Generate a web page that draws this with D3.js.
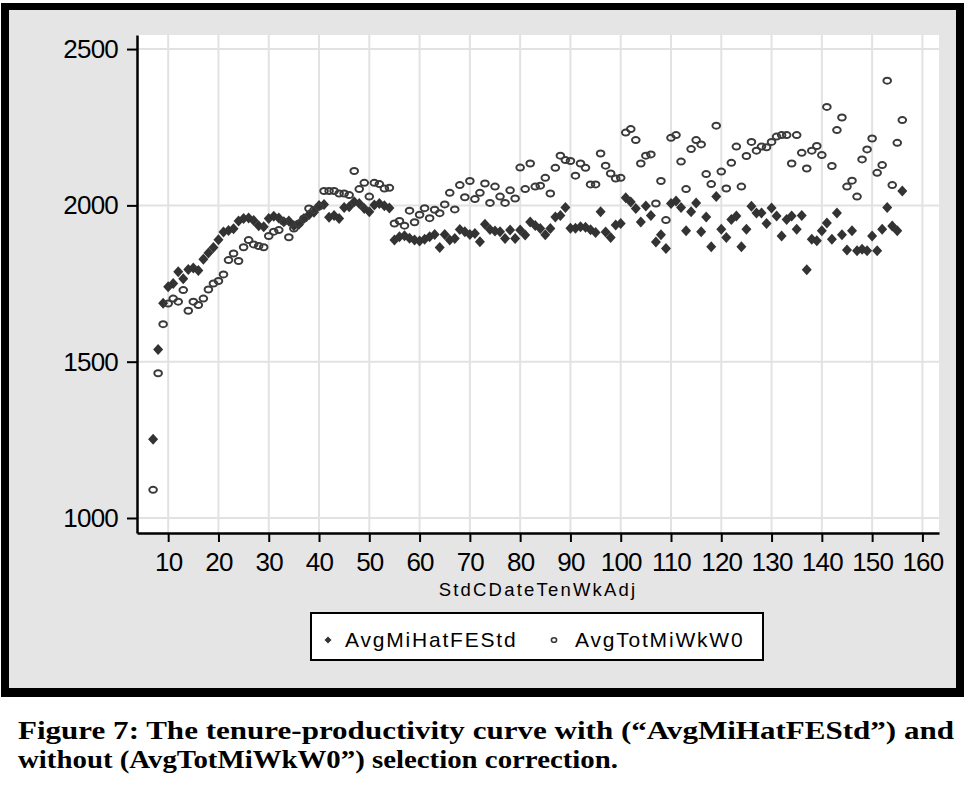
<!DOCTYPE html>
<html>
<head>
<meta charset="UTF-8">
<title>Figure 7 - tenure-productivity curve</title>
<style>
  body { margin: 0; background: #fff; }
  .tick text { font-family: "Liberation Sans", Arial, sans-serif; }
</style>
</head>
<body>
<svg id="chart"></svg>
<script src="https://d3js.org/d3.v7.min.js"></script>
<script>

// tenure (StdCDateTenWkAdj) values
let weeks = [7,8,9,10,11,12,13,14,15,16,17,18,19,20,21,22,23,24,25,26,27,28,29,30,31,32,33,34,35,36,37,38,39,40,
  41,42,43,44,45,46,47,48,49,50,51,52,53,54,55,56,57,58,59,60,61,62,63,64,65,66,67,68,69,70,71,72,73,74,75,76,77,78,79,80,
  81,82,83,84,85,86,87,88,89,90,91,92,93,94,95,96,97,98,99,100,101,102,103,104,105,106,107,108,109,110,111,112,113,114,115,
  116,117,118,119,120,121,122,123,124,125,126,127,128,129,130,131,132,133,134,135,136,137,138,139,140,141,142,143,144,145,
  146,147,148,149,150,151,152,153,154,155,156];

// with selection correction (filled diamonds)
let avgMiHatFEStd = [1252,1539,1687,1740,1750,1788,1765,1795,1800,1792,1828,1848,1865,1890,1915,1920,1925,1950,1958,1960,
  1952,1935,1932,1958,1965,1960,1948,1950,1935,1940,1958,1970,1978,2000,2003,1962,1968,1958,1993,1996,2012,2006,1990,1980,
  2001,2006,1999,1992,1889,1900,1903,1895,1889,1886,1892,1900,1907,1865,1907,1889,1894,1923,1916,1907,1910,1884,1940,1923,
  1918,1916,1894,1921,1894,1921,1905,1947,1936,1926,1906,1926,1963,1968,1993,1927,1927,1932,1930,1922,1913,1980,1915,1897,
  1937,1942,2024,2011,1990,1947,1998,1968,1883,1906,1862,2006,2014,1993,1919,1980,2008,1916,1963,1868,2028,1924,1897,1955,
  1966,1868,1924,1997,1976,1976,1942,1992,1966,1902,1955,1966,1924,1968,1794,1892,1887,1919,1944,1892,1976,1906,1857,1919,
  1855,1860,1855,1902,1855,1924,1993,1934,1919,2046];

// without selection correction (hollow circles)
let avgTotMiWkW0 = [1090,1463,1620,1686,1702,1692,1729,1663,1692,1681,1702,1731,1750,1758,1779,1825,1846,1822,1866,1889,
  1875,1870,1866,1902,1916,1921,1948,1898,1926,1942,1958,1990,1985,1996,2046,2046,2046,2038,2038,2033,2110,2052,2072,2028,
  2072,2068,2054,2056,1942,1950,1935,1983,1946,1970,1991,1959,1986,1975,2003,2040,1987,2065,2026,2078,2020,2040,2070,2008,
  2060,2028,2008,2048,2022,2121,2052,2134,2060,2063,2088,2038,2120,2159,2145,2142,2095,2134,2120,2067,2067,2166,2127,2102,
  2086,2088,2233,2244,2209,2134,2159,2163,2006,2078,1953,2216,2225,2140,2052,2180,2209,2195,2100,2068,2255,2108,2054,2136,
  2188,2060,2158,2203,2175,2188,2186,2203,2220,2225,2225,2134,2225,2168,2118,2175,2190,2161,2315,2126,2241,2281,2060,2079,
  2028,2147,2179,2214,2104,2129,2399,2065,2200,2273];

let xTicks = [10,20,30,40,50,60,70,80,90,100,110,120,130,140,150,160];
let yTicks = [1000,1500,2000,2500];
let xTitle = "StdCDateTenWkAdj";
let legendLabels = ["AvgMiHatFEStd", "AvgTotMiWkW0"];
let captionLines = ["Figure 7: The tenure-productivity curve with (\u201cAvgMiHatFEStd\u201d) and",
  "without (AvgTotMiWkW0\u201d) selection correction."];

let width = 966, height = 792;
let svg = d3.select("#chart").attr("width", width).attr("height", height);

// outer black frame and grey panel
svg.append("rect").attr("x", 1).attr("y", 3).attr("width", 963).attr("height", 694).attr("fill", "#000");
svg.append("rect").attr("x", 9).attr("y", 10).attr("width", 947).attr("height", 678).attr("fill", "#e5e5e5");

let plot = {left: 137, right: 939, top: 35, bottom: 533};

let x = d3.scaleLinear().domain([3.8, 163.3]).range([plot.left, plot.right]);
let y = d3.scaleLinear().domain([952, 2545]).range([plot.bottom, plot.top]);

svg.append("rect")
  .attr("x", plot.left).attr("y", plot.top)
  .attr("width", plot.right - plot.left).attr("height", plot.bottom - plot.top)
  .attr("fill", "#fff");

// grid
svg.append("g").selectAll("line").data(xTicks).enter().append("line")
  .attr("x1", d => x(d)).attr("x2", d => x(d))
  .attr("y1", plot.top).attr("y2", plot.bottom)
  .attr("stroke", "#e2e2e2").attr("stroke-width", 2);
svg.append("g").selectAll("line").data(yTicks).enter().append("line")
  .attr("x1", plot.left).attr("x2", plot.right)
  .attr("y1", d => y(d)).attr("y2", d => y(d))
  .attr("stroke", "#e2e2e2").attr("stroke-width", 2);

// points
let pts = weeks.map((w, i) => ({w: w, a: avgMiHatFEStd[i], b: avgTotMiWkW0[i]}));

svg.append("g").selectAll("path").data(pts).enter().append("path")
  .attr("d", "M0,-5.5L5,0L0,5.5L-5,0Z")
  .attr("transform", d => "translate(" + x(d.w) + "," + y(d.a) + ")")
  .attr("fill", "#333");

svg.append("g").selectAll("ellipse").data(pts).enter().append("ellipse")
  .attr("cx", d => x(d.w)).attr("cy", d => y(d.b))
  .attr("rx", 3.8).attr("ry", 3)
  .attr("fill", "none").attr("stroke", "#3a3a3a").attr("stroke-width", 2);

// axes
let yAxis = svg.append("g")
  .attr("transform", "translate(" + plot.left + ",0)")
  .call(d3.axisLeft(y).tickValues(yTicks).tickFormat(d3.format("d"))
    .tickSize(10).tickSizeOuter(0).tickPadding(9));
let xAxis = svg.append("g")
  .attr("transform", "translate(0," + plot.bottom + ")")
  .call(d3.axisBottom(x).tickValues(xTicks).tickFormat(d3.format("d"))
    .tickSize(9).tickSizeOuter(0).tickPadding(11));

[yAxis, xAxis].forEach(g => {
  g.select(".domain").attr("stroke", "#000").attr("stroke-width", 2.5);
  g.selectAll(".tick line").attr("stroke", "#000").attr("stroke-width", 2);
  g.selectAll(".tick text")
    .attr("fill", "#000")
    .style("font-size", "26px")
    .style("letter-spacing", "-0.8px");
});

svg.append("text")
  .attr("x", (plot.left + plot.right) / 2).attr("y", 596)
  .attr("text-anchor", "middle")
  .style("font-family", "Liberation Sans, Arial, sans-serif")
  .style("font-size", "18.5px")
  .style("letter-spacing", "2.2px")
  .text(xTitle);

// legend
let legend = svg.append("g");
legend.append("rect")
  .attr("x", 311).attr("y", 613).attr("width", 452).attr("height", 47)
  .attr("fill", "#fff").attr("stroke", "#000").attr("stroke-width", 2);
legend.append("path")
  .attr("d", "M0,-3.5L3.5,0L0,3.5L-3.5,0Z")
  .attr("transform", "translate(328,640)")
  .attr("fill", "#333");
legend.append("ellipse")
  .attr("cx", 554).attr("cy", 640).attr("rx", 2.6).attr("ry", 2.3)
  .attr("fill", "none").attr("stroke", "#3a3a3a").attr("stroke-width", 1.6);
legend.selectAll("text").data(legendLabels).enter().append("text")
  .attr("x", (d, i) => i === 0 ? 345 : 575)
  .attr("y", 647)
  .style("font-family", "Liberation Sans, Arial, sans-serif")
  .style("font-size", "21px")
  .style("letter-spacing", "1.8px")
  .text(d => d);

// caption, stretched to the text width like the page it came from
let capWidths = [936, 600];
svg.append("g").selectAll("text").data(captionLines).enter().append("text")
  .attr("x", 18)
  .attr("y", (d, i) => 739 + i * 29)
  .attr("textLength", (d, i) => capWidths[i])
  .attr("lengthAdjust", "spacingAndGlyphs")
  .style("font-family", "Liberation Serif, Times New Roman, serif")
  .style("font-weight", "bold")
  .style("font-size", "25px")
  .text(d => d);

</script>
</body>
</html>
